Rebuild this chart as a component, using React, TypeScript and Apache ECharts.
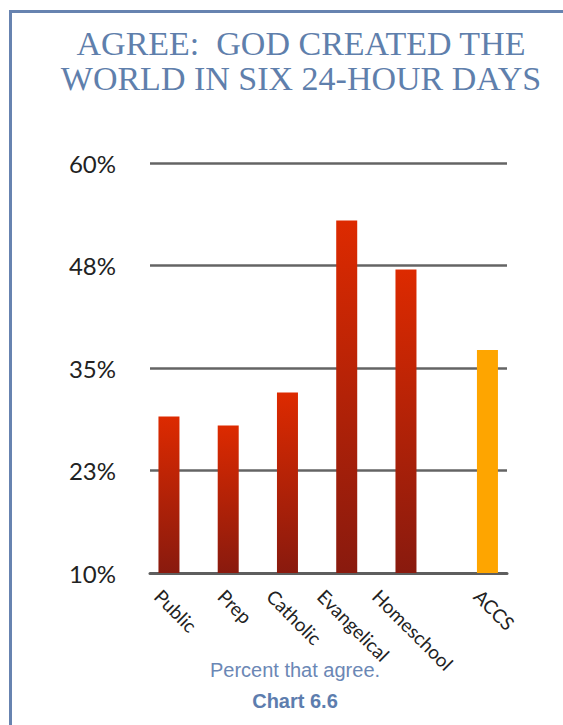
import React, { useEffect, useRef } from "react";
import * as echarts from "echarts";

const titleLines = ["AGREE:  GOD CREATED THE", "WORLD IN SIX 24-HOUR DAYS"];
const categories = ["Public", "Prep", "Catholic", "Evangelical", "Homeschool", "ACCS"];
const values = [29.1, 28.0, 32.0, 53.0, 47.0, 37.2];
const highlighted = ["ACCS"];
const yTicks = [10, 22.5, 35, 47.5, 60];
const subtitle = "Percent that agree.";
const chartNo = "Chart 6.6";

// ACCS sits a little apart from the other schools
const slotPos = categories.map((c, i) => i + (highlighted.includes(c) ? 0.375 : 0));

export default function App() {
  const ref = useRef<HTMLDivElement>(null);
  useEffect(() => {
    if (!ref.current) return;
    const chart = echarts.init(ref.current, null, { renderer: "svg" });
    const blue = "#6783b0";
    const W = 563;
    const gridLeft = 150;
    const gridRight = 56;
    const xMin = -0.32;
    const xMax = 5.705;
    const pxPerUnit = (W - gridLeft - gridRight) / (xMax - xMin);
    const labelFont = 19;
    // rotated labels: bounding box centred under the bar, as in the original
    const ctx = document.createElement("canvas").getContext("2d");
    if (ctx) ctx.font = `${labelFont}px Lato`;
    const labelPos = categories.map((c, i) => {
      const w = ctx ? ctx.measureText(c).width : c.length * labelFont * 0.5;
      const shiftPx = 0.354 * (w - labelFont) - 7;
      return slotPos[i] - shiftPx / pxPerUnit;
    });
    const redGrad = new echarts.graphic.LinearGradient(0, 0, 0, 1, [
      { offset: 0, color: "#dd2a00" },
      { offset: 1, color: "#891a0e" },
    ]);
    chart.setOption({
      animation: false,
      backgroundColor: "#ffffff",
      title: [
        {
          text: titleLines.join("\n"),
          left: 296,
          top: 21,
          textAlign: "center",
          textStyle: {
            fontFamily: "Liberation Serif",
            fontWeight: "normal",
            fontSize: 34,
            lineHeight: 35,
            color: "#5f7fac",
          },
        },
        {
          text: subtitle,
          left: 290,
          top: 655,
          textAlign: "center",
          textStyle: {
            fontFamily: "Liberation Sans",
            fontWeight: "normal",
            fontSize: 20,
            color: "#6b87b5",
          },
        },
        {
          text: chartNo,
          left: 290,
          top: 686,
          textAlign: "center",
          textStyle: {
            fontFamily: "Liberation Sans",
            fontWeight: "bold",
            fontSize: 20,
            color: "#5d7dae",
          },
        },
      ],
      graphic: [
        { type: "rect", shape: { x: 9, y: 10, width: 560, height: 3 }, style: { fill: blue }, silent: true },
        { type: "rect", shape: { x: 9, y: 10, width: 3, height: 720 }, style: { fill: blue }, silent: true },
      ],
      grid: { left: gridLeft, right: gridRight, top: 163, bottom: 152, outerBoundsMode: "none" },
      xAxis: {
        type: "value",
        min: xMin,
        max: xMax,
        splitLine: { show: false },
        axisTick: { show: false },
        axisLine: { show: true, onZero: false, lineStyle: { color: "#5e5e5e", width: 3 } },
        axisLabel: {
          customValues: labelPos,
          formatter: (v: number) => {
            const i = labelPos.findIndex((p) => Math.abs(p - v) < 1e-6);
            return i >= 0 ? categories[i] : "";
          },
          rotate: -45,
          align: "left",
          verticalAlign: "top",
          margin: 13,
          fontFamily: "Lato",
          fontSize: labelFont,
          color: "#222222",
        },
      },
      yAxis: {
        type: "value",
        min: yTicks[0],
        max: yTicks[yTicks.length - 1],
        interval: yTicks[1] - yTicks[0],
        axisLine: { show: false },
        axisTick: { show: false },
        splitLine: { lineStyle: { color: "#646464", width: 2.5 } },
        axisLabel: {
          formatter: (v: number) => Math.round(v) + "%",
          margin: 34,
          fontFamily: "Lato",
          fontSize: 24,
          color: "#222222",
        },
      },
      series: [
        {
          type: "bar",
          barWidth: 21,
          data: categories.map((c, i) => ({
            value: [slotPos[i], values[i]],
            itemStyle: { color: highlighted.includes(c) ? "#fea500" : redGrad },
          })),
        },
      ],
    });
    return () => chart.dispose();
  }, []);
  return (
    <div
      ref={ref}
      style={{ position: "fixed", left: 0, top: 0, width: 563, height: 725 }}
    />
  );
}
